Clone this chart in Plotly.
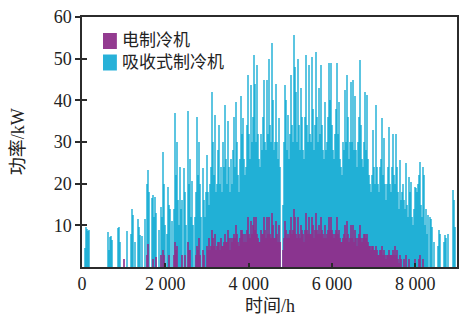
import numpy as np
import plotly.graph_objects as go

# Daily peak power (kW), one value per day starting at hour 0
absorption_kw = [
    0, 0, 4.5, 9.6, 9.2, 8.6, 9.0, 0, 0, 0,
    0, 0, 0, 0, 0, 0, 0, 0, 0, 0,
    0, 0, 0, 0, 0, 8.4, 4, 7.2, 7.4, 6.5,
    0, 0, 0, 0, 0, 9.3, 9.5, 6, 0, 0,
    0, 0, 0, 0, 8.7, 0, 0, 0, 8, 14,
    12.5, 0, 6, 0, 0, 11.5, 9.5, 7.7, 0, 7.5,
    0, 0, 11.5, 0, 20, 23.3, 18, 0, 0, 16.6,
    17.4, 12, 16.7, 13, 0, 0, 9, 0, 14.3, 12,
    27.6, 20, 10, 0, 8, 19.2, 15, 14, 0, 11,
    0, 14, 37, 22, 30, 16, 10, 24, 14, 16,
    0, 23.7, 18, 10, 0, 37.5, 20, 26, 12, 20.6,
    10, 0, 12, 18, 36, 22, 30, 20, 12, 0,
    23.7, 16, 12, 18, 26.8, 18, 15, 20, 24, 42,
    30, 22, 36.4, 18, 20, 28, 34, 20, 24, 18,
    30, 24, 39, 26, 20, 35, 24, 18, 26, 20,
    28, 36, 24, 39.6, 30, 22, 18, 26, 41, 32,
    35.7, 26, 22, 24, 34, 46, 32, 26, 43.6, 30,
    36, 51, 44, 30, 48.5, 32, 26, 24, 32, 28,
    36, 45, 30, 28, 45, 32, 50, 34, 30, 53.7,
    40, 28, 30, 44, 30, 26, 35.7, 24, 0, 0,
    15, 30, 43.6, 40, 28, 36.4, 26, 32, 46, 34,
    30, 55.7, 48, 42, 30, 50, 34, 28, 43, 36,
    28, 26, 36, 50.9, 34, 30, 48.5, 32, 30, 50.5,
    38, 28, 34, 51.7, 36, 30, 43, 32, 48.5, 34,
    28, 26, 39.6, 28, 30, 36, 49, 40, 49, 34,
    28, 26, 32, 38, 49, 32, 39.6, 26, 24, 22,
    30, 28, 42.5, 30, 46, 36, 26, 30, 44.4, 30,
    45, 28, 41, 28, 24, 30, 36, 49.7, 34, 26,
    24, 30, 42, 28, 41.2, 26, 22, 20, 18, 22,
    33, 24, 20, 38.8, 24, 20, 18, 24, 26, 35.7,
    22, 30.9, 20, 16, 20, 24, 33.6, 20, 18, 24,
    32, 22, 20, 32, 24, 18, 14, 25.6, 16, 18,
    20, 16, 14, 24.9, 15, 12, 21.5, 18, 20.4, 12,
    10, 14, 19.2, 19, 18, 20, 22, 25.2, 15, 12,
    24, 22, 10, 14, 8, 12.4, 0, 12, 11.5, 9.6,
    0, 6, 0, 0, 0, 5, 8.8, 8, 0, 0,
    0, 6, 7.6, 7, 0, 8, 0, 0, 0, 0,
    18.4, 16, 9.6,
]

electric_kw = [
    0, 0, 0, 0, 0, 0, 0, 0, 0, 0,
    0, 0, 0, 0, 0, 0, 0, 0, 0, 0,
    0, 0, 0, 0, 0, 0, 0, 0, 0, 0,
    0, 0, 0, 0, 0, 0, 0, 0, 0, 0,
    0, 2, 0, 0, 0, 0, 0, 0, 0, 0,
    0, 0, 0, 0, 0, 0, 0, 0, 0, 0,
    0, 0, 0, 0, 3, 5.5, 0, 0, 0, 0,
    2, 0, 0, 2.5, 0, 0, 0, 0, 3, 0,
    4, 3, 0, 0, 0, 0, 3, 0, 0, 0,
    0, 3, 6, 4, 5, 0, 0, 0, 0, 3,
    0, 0, 3, 0, 0, 6, 4, 4, 0, 0,
    0, 0, 0, 3, 5, 4, 7, 3, 0, 0,
    4, 3, 0, 0, 5, 4, 7, 4, 5, 9,
    7, 5, 8, 4, 5, 6, 6, 4, 7, 5,
    5, 6, 8, 6, 6, 9, 7, 4, 7, 6,
    7, 8, 7, 10, 8, 6, 5, 7, 9, 9,
    8, 6, 8, 6, 9, 12, 8, 7, 11, 8,
    10, 12, 9, 12, 8, 7, 6, 6, 9, 8,
    8, 12, 9, 7, 12, 8, 12, 8, 7, 13,
    10, 7, 7, 11, 8, 6, 10, 6, 0, 0,
    4, 7, 11, 9, 7, 8, 7, 9, 12, 8,
    9, 14, 12, 8, 7, 12, 8, 7, 10, 9,
    8, 6, 9, 13, 9, 8, 12, 8, 8, 12,
    10, 7, 9, 13, 9, 8, 10, 8, 12, 9,
    8, 7, 10, 7, 8, 9, 12, 9, 12, 9,
    8, 7, 8, 9, 12, 8, 9, 7, 6, 6,
    7, 8, 10, 7, 11, 8, 6, 7, 10, 7,
    10, 6, 9, 7, 5, 7, 8, 10, 7, 6,
    7, 8, 8, 7, 8, 6, 5, 5, 4, 5,
    5, 4, 4, 5, 4, 3, 3, 4, 4, 5,
    3, 4, 3, 2, 3, 3, 4, 3, 3, 3,
    4, 3, 5, 3, 4, 2, 1, 3, 2, 0,
    0, 2, 0, 3, 0, 0, 2, 0, 0, 0,
    0, 0, 2, 0, 0, 0, 2, 3, 0, 0,
    2, 0, 0, 0, 0, 0, 0, 0, 0, 0,
    0, 0, 0, 0, 0, 0, 0, 0, 0, 0,
    0, 0, 0, 0, 0, 0, 0, 0, 0, 0,
    0, 0, 0,
]

series_names = ["电制冷机", "吸收式制冷机"]
x_tick_vals = [0, 2000, 4000, 6000, 8000]
x_tick_text = ["0", "2 000", "4 000", "6 000", "8 000"]
y_tick_vals = [10, 20, 30, 40, 50, 60]

HOURS_PER_DAY = 24
hours = np.arange(len(absorption_kw)) * HOURS_PER_DAY + HOURS_PER_DAY / 2

# semi-transparent bars that overlap their neighbour: dense parts look saturated,
# isolated peaks look pale, as in the source figure
C_CYAN_BAR = "rgba(0,165,208,0.64)"
C_PURPLE_BAR = "rgba(142,48,140,0.82)"
C_CYAN = "#28b1d8"
C_PURPLE = "#933b90"
AXC = "#2b2b2b"
FONT = "Liberation Serif, Noto Sans CJK SC, serif"
BAR_W = 2 * HOURS_PER_DAY

fig = go.Figure()
fig.add_trace(go.Bar(x=hours, y=absorption_kw, width=BAR_W,
                     marker=dict(color=C_CYAN_BAR, line=dict(width=0)),
                     name=series_names[1], showlegend=False))
fig.add_trace(go.Bar(x=hours, y=electric_kw, width=BAR_W,
                     marker=dict(color=C_PURPLE_BAR, line=dict(width=0)),
                     name=series_names[0], showlegend=False))
# invisible trace to carry the inner y ticks
fig.add_trace(go.Scatter(x=[None], y=[None], yaxis="y2", showlegend=False, hoverinfo="skip"))

fig.update_layout(
    width=460, height=325,
    margin=dict(l=82, r=1, t=17, b=58),
    paper_bgcolor="white", plot_bgcolor="white",
    barmode="overlay", bargap=0,
    font=dict(family=FONT, size=18, color="#222"),
    xaxis=dict(range=[0, 9000], tickvals=x_tick_vals, ticktext=x_tick_text,
               ticks="inside", ticklen=4, tickwidth=1.5, tickcolor=AXC,
               showline=True, linecolor=AXC, linewidth=1.5, mirror=True,
               showgrid=False, zeroline=False,
               tickfont=dict(family=FONT, size=18, color="#222")),
    yaxis=dict(range=[0, 60], tickvals=y_tick_vals,
               ticks="outside", ticklen=5, tickwidth=1.5, tickcolor=AXC,
               showline=True, linecolor=AXC, linewidth=1.5, mirror=True,
               showgrid=False, zeroline=False,
               tickfont=dict(family=FONT, size=18, color="#222")),
    yaxis2=dict(range=[0, 60], tickvals=y_tick_vals, overlaying="y", side="left",
                ticks="inside", ticklen=5, tickwidth=1.5, tickcolor=AXC,
                showticklabels=False, showline=False, showgrid=False, zeroline=False),
)

# custom legend: squares + labels
legend_items = [(series_names[0], C_PURPLE, 0.936, 0.872, 0.905),
                (series_names[1], C_CYAN, 0.850, 0.786, 0.818)]
for label, col, y1, y0, yt in legend_items:
    fig.add_shape(type="rect", xref="paper", yref="paper", x0=0.056, x1=0.093, y0=y0, y1=y1,
                  fillcolor=col, line=dict(width=0))
    fig.add_annotation(xref="paper", yref="paper", x=0.105, y=yt, text=label,
                       showarrow=False, xanchor="left", yanchor="middle", borderpad=0,
                       font=dict(family=FONT, size=17, color="#222"))

fig.add_annotation(xref="paper", yref="paper", x=-0.17, y=0.5, text="功率/kW", textangle=-90,
                   showarrow=False, xanchor="center", yanchor="middle",
                   font=dict(family=FONT, size=18, color="#222"))
fig.add_annotation(xref="paper", yref="paper", x=0.5, y=-0.155, text="时间/h",
                   showarrow=False, xanchor="center", yanchor="middle",
                   font=dict(family=FONT, size=18, color="#222"))

fig.write_html("out.html")
